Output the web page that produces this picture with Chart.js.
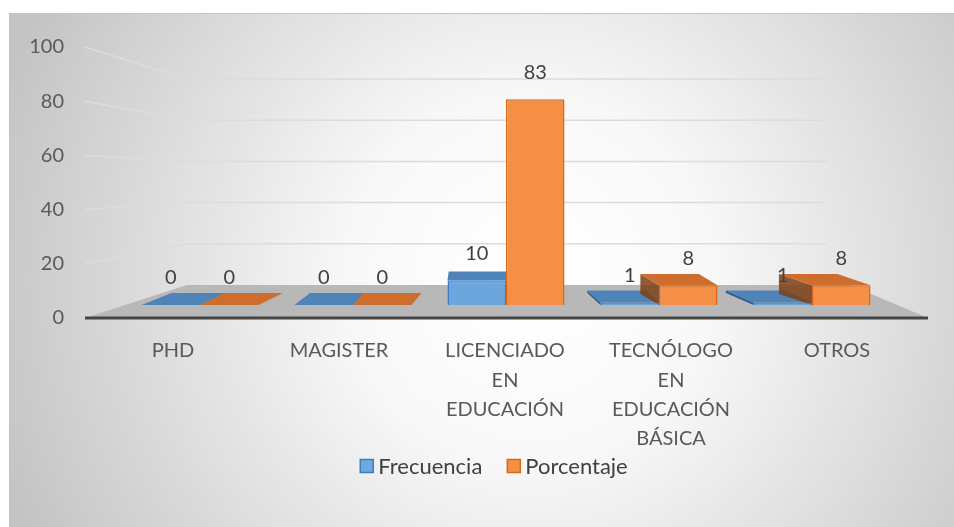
<!DOCTYPE html>
<html lang="es">
<head>
    <meta charset="UTF-8">
    <title>Nivel de formación</title>
    <script src="https://cdn.jsdelivr.net/npm/chart.js"></script>
    <style>
        html, body { margin: 0; padding: 0; background: #fff; }
        #wrap { width: 954px; height: 527px; position: relative; }
    </style>
</head>
<body>
<div id="wrap"><canvas id="grafico"></canvas></div>
<script>
    // Datos
    const categorias = ["PHD", "MAGISTER", ["LICENCIADO", "EN", "EDUCACIÓN"], ["TECNÓLOGO", "EN", "EDUCACIÓN", "BÁSICA"], "OTROS"];
    const frecuencia = [0, 0, 10, 1, 1];
    const porcentaje = [0, 0, 83, 8, 8];
    const marcasY = [0, 20, 40, 60, 80, 100];

    const colores = [
        { frente: "rgba(104,164,222,0.95)", borde: "#3A7EC2", tapa: "#4F84BA", lado: "#2F5F90" },
        { frente: "#F48F45", borde: "#D8681E", tapa: "#CF6E2C", lado: "rgba(125,62,20,0.85)" }
    ];
    const valores = [frecuencia, porcentaje];

    Chart.defaults.font.family = "Lato";

    // efecto 3D: desplazamiento de la cara superior según la posición de la barra
    const FUGA_X = 490;
    function desplazamiento(x, y) {
        const dx = (FUGA_X - x) * 0.094;
        const dy = -Math.min(12, Math.max(0, (y - 263) * 0.5));
        return { dx, dy };
    }

    function poligono(ctx, pts) {
        ctx.beginPath();
        ctx.moveTo(pts[0][0], pts[0][1]);
        for (let i = 1; i < pts.length; i++) ctx.lineTo(pts[i][0], pts[i][1]);
        ctx.closePath();
        ctx.fill();
    }

    const fondo = {
        id: "fondo",
        beforeDraw(chart) {
            const { ctx, width, height } = chart;
            ctx.save();
            ctx.fillStyle = "#ffffff";
            ctx.fillRect(0, 0, width, height);
            const g = ctx.createRadialGradient(530, 280, 20, 530, 280, 560);
            g.addColorStop(0, "#ffffff");
            g.addColorStop(0.3, "#f8f8f8");
            g.addColorStop(1, "#c4c4c4");
            ctx.fillStyle = g;
            ctx.fillRect(9, 13, width - 9, height - 13);
            ctx.strokeStyle = "#c4c4c4";
            ctx.lineWidth = 1;
            ctx.strokeRect(9.5, 13.5, width, height);
            ctx.restore();
        }
    };

    const escena = {
        id: "escena",
        beforeDatasetsDraw(chart) {
            const { ctx, chartArea: a } = chart;
            const sy = chart.scales.y;
            const y0 = sy.getPixelForValue(0);
            const fondoY = y0 - 33;
            const izq = a.left - 5, izqF = a.left + 97, derF = a.right - 94, der = a.right + 8;
            ctx.save();
            // líneas de división (pared izquierda y pared de fondo)
            ctx.strokeStyle = "#dcdcdc";
            ctx.lineWidth = 1.5;
            marcasY.forEach(v => {
                if (v === 0) return;
                const yv = sy.getPixelForValue(v);
                const yb = fondoY - (y0 - yv) * 0.76;
                ctx.beginPath();
                ctx.moveTo(izq, yv);
                ctx.lineTo(izqF, yb);
                ctx.lineTo(derF, yb);
                ctx.stroke();
            });
            // piso
            ctx.fillStyle = "#b8b8b8";
            poligono(ctx, [[izq, y0], [izqF, fondoY], [a.right - 70, fondoY], [der, y0]]);
            // caras laterales y superiores
            chart.data.datasets.forEach((ds, i) => {
                const col = colores[i];
                chart.getDatasetMeta(i).data.forEach(bar => {
                    const { x, y, base, width } = bar.getProps(["x", "y", "base", "width"], true);
                    const x0 = x - width / 2, x1 = x + width / 2;
                    const { dx, dy } = desplazamiento(x, y);
                    if (dy < 0) {
                        const xs = dx < 0 ? x0 : x1;
                        if (y < base - 1) {
                            ctx.fillStyle = col.lado;
                            poligono(ctx, [[xs, y], [xs + dx, y + dy], [xs + dx, base + dy], [xs, base]]);
                        }
                        ctx.fillStyle = col.tapa;
                        poligono(ctx, [[x0, y], [x1, y], [x1 + dx, y + dy], [x0 + dx, y + dy]]);
                    }
                });
            });
            ctx.restore();
        },
        afterDatasetsDraw(chart) {
            const { ctx, chartArea: a } = chart;
            const y0 = chart.scales.y.getPixelForValue(0);
            ctx.save();
            ctx.strokeStyle = "#454545";
            ctx.lineWidth = 3;
            ctx.beginPath();
            ctx.moveTo(a.left - 5, y0);
            ctx.lineTo(a.right + 8, y0);
            ctx.stroke();
            // etiquetas de datos
            ctx.fillStyle = "#404040";
            ctx.font = "20px Lato";
            ctx.textAlign = "center";
            ctx.textBaseline = "middle";
            chart.data.datasets.forEach((ds, i) => {
                chart.getDatasetMeta(i).data.forEach((bar, j) => {
                    const { x, y } = bar.getProps(["x", "y"], true);
                    ctx.fillText(String(valores[i][j]), x, y - 27);
                });
            });
            ctx.restore();
        }
    };

    // leyenda dibujada bajo las etiquetas del eje
    const leyenda = {
        id: "leyenda",
        afterDraw(chart) {
            const { ctx } = chart;
            const centro = 494, yL = 466, caja = 13, sep = 5, hueco = 25;
            ctx.save();
            ctx.font = "22px Lato";
            ctx.textBaseline = "middle";
            ctx.textAlign = "left";
            const ds = chart.data.datasets;
            const anchos = ds.map(d => ctx.measureText(d.label).width);
            const total = anchos.reduce((s, w) => s + caja + sep + w, 0) + hueco * (ds.length - 1);
            let x = centro - total / 2;
            ds.forEach((d, i) => {
                ctx.fillStyle = d.backgroundColor;
                ctx.fillRect(x, yL - caja / 2, caja, caja);
                ctx.strokeStyle = d.borderColor;
                ctx.lineWidth = 1.5;
                ctx.strokeRect(x, yL - caja / 2, caja, caja);
                ctx.fillStyle = "#404040";
                ctx.fillText(d.label, x + caja + sep, yL + 1);
                x += caja + sep + anchos[i] + hueco;
            });
            ctx.restore();
        }
    };

    const ctx = document.getElementById("grafico").getContext("2d");
    new Chart(ctx, {
        type: "bar",
        data: {
            labels: categorias,
            datasets: [
                {
                    label: "Frecuencia",
                    data: frecuencia.map((v, i) => ({ x: i, y: v })),
                    backgroundColor: colores[0].frente,
                    borderColor: colores[0].borde,
                    borderWidth: 1.5,
                    xAxisID: "xBar",
                    yAxisID: "yBar",
                    barPercentage: 1,
                    categoryPercentage: 0.765
                },
                {
                    label: "Porcentaje",
                    data: porcentaje.map((v, i) => ({ x: i, y: v })),
                    backgroundColor: colores[1].frente,
                    borderColor: colores[1].borde,
                    borderWidth: 1.5,
                    xAxisID: "xBar",
                    yAxisID: "yBar",
                    barPercentage: 1,
                    categoryPercentage: 0.765
                }
            ]
        },
        options: {
            responsive: true,
            maintainAspectRatio: false,
            animation: false,
            layout: { padding: { top: 47, left: 20, right: 34, bottom: 77 } },
            scales: {
                x: {
                    type: "category",
                    position: "bottom",
                    grid: { display: false, drawTicks: false },
                    border: { display: false },
                    ticks: {
                        font: { size: 20, lineHeight: 1.47 },
                        color: "#595959",
                        padding: 18,
                        maxRotation: 0,
                        autoSkip: false
                    },
                    afterFit(s) { s.height = 132; }
                },
                y: {
                    type: "linear",
                    position: "left",
                    min: 0,
                    max: 100,
                    grid: { display: false, drawTicks: false },
                    border: { display: false },
                    ticks: { font: { size: 20 }, color: "#595959", padding: 26 },
                    afterBuildTicks(s) { s.ticks = marcasY.map(v => ({ value: v })); },
                    afterFit(s) { s.width = 70; }
                },
                // ejes ocultos que imitan la perspectiva de las barras
                xBar: {
                    type: "linear", display: false, offset: false, min: -0.719, max: 4.706,
                    afterBuildTicks(s) { s.ticks = categorias.map((c, i) => ({ value: i })); }
                },
                yBar: { type: "linear", display: false, min: -5.24, max: 104.03 }
            },
            plugins: {
                legend: { display: false },
                tooltip: { enabled: false }
            }
        },
        plugins: [fondo, escena, leyenda]
    });
</script>
</body>
</html>
